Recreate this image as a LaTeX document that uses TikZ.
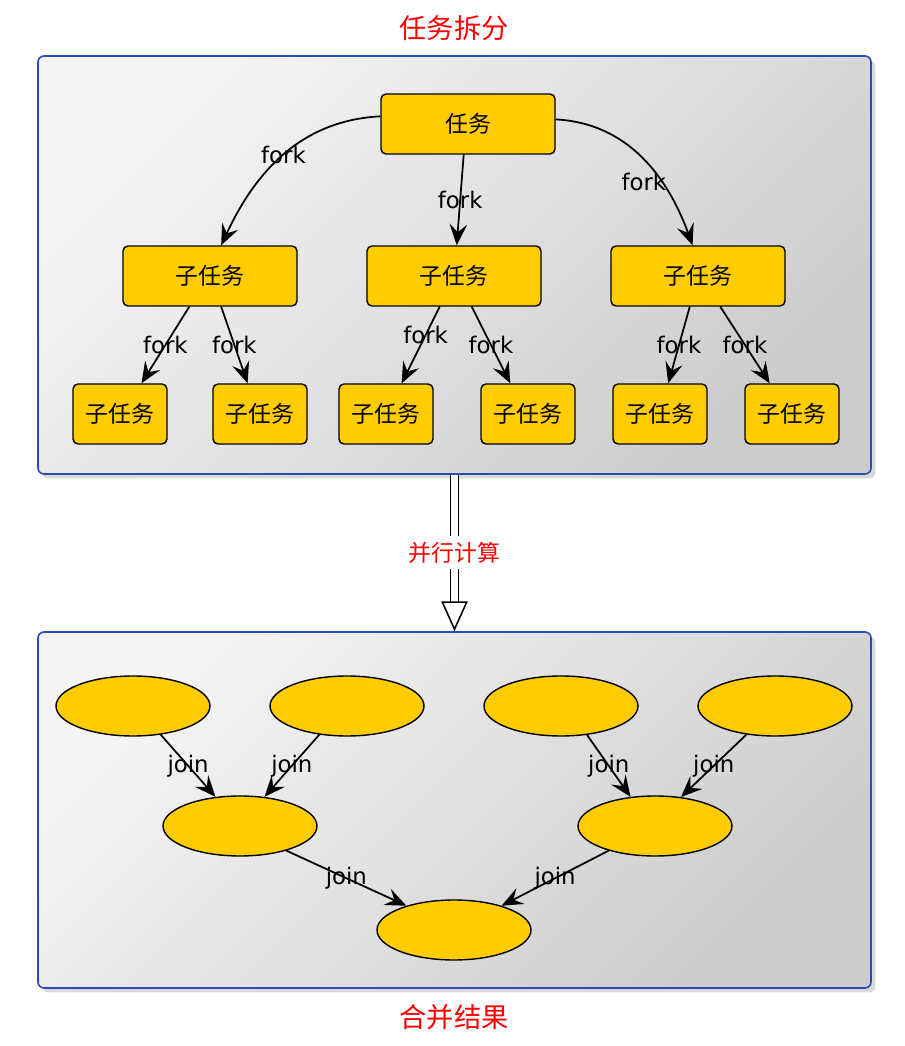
\documentclass[tikz,border=0pt]{standalone}
\usepackage{fontspec}
\setmainfont{DejaVu Sans}
\newfontfamily\cjk{Noto Sans CJK SC}
\usetikzlibrary{arrows.meta, shadows, shapes.geometric, fit}
\definecolor{taskGold}{HTML}{FFCC00}
\definecolor{panelBlue}{HTML}{2A4DB5}
\definecolor{titleRed}{HTML}{FF0000}
\tikzset{
  panel/.style    = {draw=panelBlue, line width=0.9pt, rounded corners=0.12cm,
                     top color=black!4, bottom color=black!20, shading angle=45,
                     drop shadow={shadow xshift=2.5pt, shadow yshift=-2.5pt,
                                  opacity=0.25, fill=black!60},
                     inner sep=0pt},
  taskbox/.style  = {rectangle, draw=black, line width=0.8pt, rounded corners=0.1cm,
                     fill=taskGold, minimum width=3.48cm, minimum height=1.2cm,
                     font=\cjk\fontsize{13}{15}\selectfont},
  leafbox/.style  = {taskbox, minimum width=1.88cm},
  part/.style     = {ellipse, draw=black, line width=0.8pt, fill=taskGold,
                     minimum width=3.08cm, minimum height=1.2cm, inner sep=0pt},
  flow/.style     = {-{Stealth[length=12pt, width=10pt, inset=4.5pt]}, line width=1pt},
  lbl/.style      = {font=\fontsize{13}{15}\selectfont},
  title/.style    = {text=titleRed, font=\cjk\fontsize{15.5}{18}\selectfont},
  bigarrow/.style = {double distance=3.5pt, line width=0.9pt,
                     -{Triangle[open, length=17pt, width=15pt]}},
}

\begin{document}
\begin{tikzpicture}[x=0.02cm, y=0.02cm]
  \useasboundingbox (0,0) rectangle (904,1046);

  % panels
  \node[panel, fit={(38,572) (871,990)}] (split) {};
  \node[panel, fit={(38,58) (871,414)}] (merge) {};
  \node[title] (splitTitle) at (454,1018) {任务拆分};
  \node[title] (mergeTitle) at (454,29) {合并结果};

  % fork
  \node[taskbox] (task) at (468,922) {任务};
  \node[taskbox] (sub1) at (210,770) {子任务};
  \node[taskbox] (sub2) at (454,770) {子任务};
  \node[taskbox] (sub3) at (698,770) {子任务};
  \foreach \n/\x in {1/120, 2/260, 3/386, 4/528, 5/660, 6/792}
    \node[leafbox] (leaf\n) at (\x,632) {子任务};

  \draw[flow] (task.175) to[out=183, in=65] node[lbl] {fork} (sub1.70);
  \draw[flow] (task.262) -- node[lbl] {fork} (sub2.85);
  \draw[flow] (task.3) to[out=-3, in=110] node[lbl, pos=0.66, xshift=-10pt] {fork} (sub3.100);
  \foreach \a/\aa/\b/\bb/\p in {sub1/236/leaf1/55/0.5, sub1/290/leaf2/112/0.5,
                                sub2/245/leaf3/63/0.37, sub2/300/leaf4/120/0.5,
                                sub3/255/leaf5/75/0.5, sub3/306/leaf6/126/0.5}
    \draw[flow] (\a.\aa) -- node[lbl, pos=\p] {fork} (\b.\bb);

  % parallel step
  \draw[bigarrow] (split.south) -- node[fill=white, text=titleRed,
    font=\cjk\fontsize{13}{15}\selectfont] {并行计算} (merge.north);

  % join
  \node[part] (e1) at (133,340) {};
  \node[part] (e2) at (347,340) {};
  \node[part] (e3) at (561,340) {};
  \node[part] (e4) at (775,340) {};
  \node[part] (m1) at (240,220) {};
  \node[part] (m2) at (655,220) {};
  \node[part] (root) at (454,116) {};
  \foreach \a/\aa/\b/\bb in {e1/314/m1/130, e2/226/m1/50, e3/312/m2/130,
                             e4/225/m2/48, m1/332/root/153, m2/208/root/27}
    \draw[flow] (\a.\aa) -- node[lbl] {join} (\b.\bb);
\end{tikzpicture}
\end{document}
